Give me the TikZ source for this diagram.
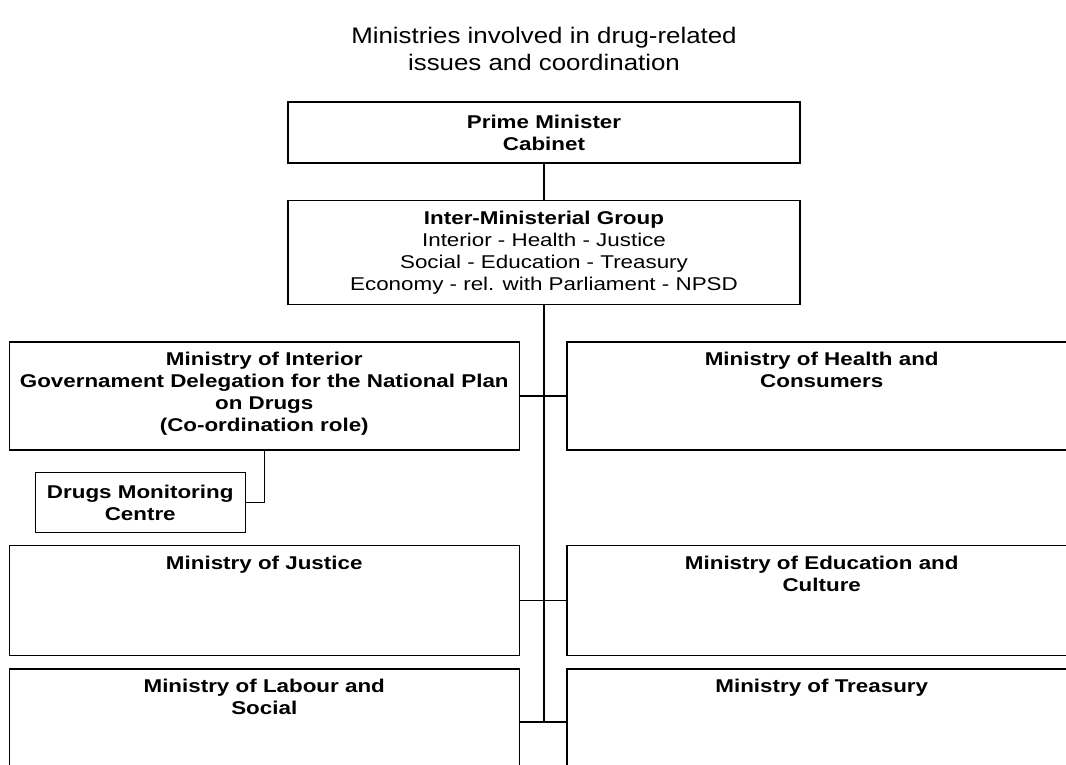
\documentclass[tikz,border=0pt]{standalone}
\usepackage{fontspec}
\usepackage{tikz}
\usetikzlibrary{positioning}
\newfontfamily\boxfont[FakeStretch=1.21]{Liberation Sans}
\newfontfamily\titlefont[FakeStretch=1.15]{Liberation Sans}
\newcommand{\boxtext}{\fontsize{18.5}{22}\boxfont}

\begin{document}
\begin{tikzpicture}[
    x=1pt, y=-1pt,
    box/.style={draw, line width=1.5pt, minimum width=510pt, inner sep=0pt,
                align=center, font=\boxtext},
    head/.style={box, font=\boxtext\bfseries},
    toptext/.style={anchor=north, yshift=-11pt, inner sep=0pt,
                    align=center, font=\boxtext\bfseries},
    topbox/.style={box, label={[toptext]north:{#1}}},
    link/.style={line width=1.5pt},
  ]
    \useasboundingbox (0,0) rectangle (1066,765);

    % Title and top of the hierarchy
    \node[align=center, font=\fontsize{22.5}{27}\titlefont] (title) at (544,48.5)
      {Ministries involved in drug-related\\issues and coordination};
    \node[head, minimum width=512pt, minimum height=61pt] (pm) at (544,132.5)
      {Prime Minister\\Cabinet};
    \node[box, minimum width=512pt, minimum height=104pt, below=36pt of pm] (img)
      {\textbf{Inter-Ministerial Group}\\Interior - Health - Justice\\
       Social - Education - Treasury\\Economy - rel. with Parliament - NPSD};

    % Row 1
    \node[topbox={Ministry of Interior\\Governament Delegation for the National Plan\\
                  on Drugs\\(Co-ordination role)},
          minimum height=108pt, below left=36pt and 24pt of img.south] (interior) {};
    \node[topbox={Ministry of Health and\\Consumers},
          minimum height=108pt, below right=36pt and 22pt of img.south] (health) {};

    \node[head, minimum width=210pt, minimum height=60pt,
          below right=21pt and 26pt of interior.south west] (dmc)
      {Drugs Monitoring\\Centre};

    % Row 2
    \node[topbox={Ministry of Justice},
          minimum height=110pt, below=94pt of interior] (justice) {};
    \node[topbox={Ministry of Education and\\Culture},
          minimum height=110pt, right=46pt of justice] (education) {};

    % Row 3
    \node[topbox={Ministry of Labour and\\Social},
          minimum height=106pt, below=12pt of justice] (labour) {};
    \node[topbox={Ministry of Treasury},
          minimum height=106pt, right=46pt of labour] (treasury) {};

    \draw[link] (pm) -- (img);
    \draw[link] (img.south) -- (img.south |- labour.east);
    \draw[link] (interior.east) -- (health.west);
    \draw[link] (justice.east) -- (education.west);
    \draw[link] (labour.east) -- (treasury.west);
    \draw[link] (interior.south) |- (dmc.east);
  \end{tikzpicture}
\end{document}
